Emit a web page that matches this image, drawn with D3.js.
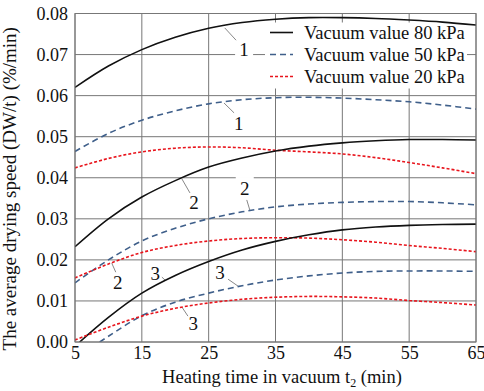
<!doctype HTML>
<html lang='en'>
<head>
	<meta charset='utf-8'>
	<title>Average drying speed vs heating time</title>
	<script src='https://d3js.org/d3.v7.min.js'></script>
	<style>
		html, body { margin: 0; padding: 0; background: #fff; }
		svg { display: block; font-family: 'Liberation Serif', 'Times New Roman', serif; }
	</style>
</head>
<body>
	<div id='container'></div>
	<script>
		// Data
		const time = [5, 10, 15, 20, 25, 30, 35, 40, 45, 50, 55, 60, 65];
		const time80c3 = [5.7, 10, 15, 20, 25, 30, 35, 40, 45, 50, 55, 60, 65];
		const time50c3 = [8.7, 10, 15, 20, 25, 30, 35, 40, 45, 50, 55, 60, 65];

		const v80c1 = [0.0620, 0.0672, 0.0712, 0.0742, 0.0764, 0.0778, 0.0786, 0.0790, 0.0790, 0.0788, 0.0784, 0.0779, 0.0772];
		const v50c1 = [0.0464, 0.0508, 0.0540, 0.0563, 0.0580, 0.0590, 0.0595, 0.0596, 0.0594, 0.0590, 0.0585, 0.0577, 0.0567];
		const v20c1 = [0.0424, 0.0447, 0.0463, 0.0472, 0.0475, 0.0473, 0.0467, 0.0463, 0.0458, 0.0449, 0.0437, 0.0424, 0.0410];
		const v80c2 = [0.0232, 0.0300, 0.0353, 0.0393, 0.0426, 0.0448, 0.0465, 0.0477, 0.0485, 0.0490, 0.0493, 0.0493, 0.0492];
		const v50c2 = [0.0144, 0.0200, 0.0246, 0.0277, 0.0300, 0.0317, 0.0329, 0.0336, 0.0340, 0.0342, 0.0342, 0.0339, 0.0334];
		const v20c2 = [0.0156, 0.0190, 0.0218, 0.0235, 0.0246, 0.0252, 0.0254, 0.0253, 0.0249, 0.0243, 0.0235, 0.0228, 0.0220];
		const v80c3 = [0.0000, 0.0060, 0.0119, 0.0162, 0.0196, 0.0224, 0.0245, 0.0261, 0.0273, 0.0280, 0.0284, 0.0286, 0.0287];
		const v50c3 = [0.0000, 0.0014, 0.0064, 0.0097, 0.0119, 0.0137, 0.0151, 0.0161, 0.0168, 0.0172, 0.0173, 0.0173, 0.0172];
		const v20c3 = [0.0005, 0.0036, 0.0063, 0.0082, 0.0095, 0.0104, 0.0109, 0.0111, 0.0110, 0.0107, 0.0101, 0.0096, 0.0090];

		const xTicks = [5, 15, 25, 35, 45, 55, 65];
		const yTicks = [0, 0.01, 0.02, 0.03, 0.04, 0.05, 0.06, 0.07, 0.08];
		const legendNames = ['Vacuum value 80 kPa', 'Vacuum value 50 kPa', 'Vacuum value 20 kPa'];

		// Curve number labels: text position and leader line, in data units
		const curveLabels = [
			{text: '1', t: 30.3, v: 0.0713, l: [27.4, 0.0765, 29.1, 0.0735]},
			{text: '1', t: 29.5, v: 0.0533, l: [27.3, 0.0582, 28.8, 0.0558]},
			{text: '2', t: 22.8, v: 0.0341, l: [21.0, 0.0397, 22.2, 0.0363]},
			{text: '2', t: 30.4, v: 0.0375, l: [30.7, 0.0346, 31.2, 0.0319]},
			{text: '2', t: 11.4, v: 0.0146, l: [10.5, 0.0192, 11.1, 0.0170]},
			{text: '3', t: 17.0, v: 0.0168, l: [18.0, 0.0158, 18.6, 0.0149]},
			{text: '3', t: 26.7, v: 0.0170, l: [27.9, 0.0153, 29.4, 0.0136]},
			{text: '3', t: 22.7, v: 0.0046, l: [21.0, 0.0085, 21.9, 0.0063]}
		];

		const margin = {top: 13.5, right: 8, bottom: 49, left: 75},
			width = 484 - margin.left - margin.right,
			height = 391 - margin.top - margin.bottom;

		const styles = {
			80: {color: '#111', dash: null},
			50: {color: '#3f5f8a', dash: '6,4'},
			20: {color: '#e8141c', dash: '3,2'}
		};

		const x = d3.scaleLinear().domain([5, 65]).range([0, width]);
		const y = d3.scaleLinear().domain([0, 0.08]).range([height, 0]);

		const svg = d3.select('#container').append('svg')
			.attr('width', 484)
			.attr('height', 391)
			.append('g')
			.attr('transform', 'translate(' + margin.left + ',' + margin.top + ')');

		// Grid
		svg.append('g').selectAll('line')
			.data(yTicks)
			.enter().append('line')
			.attr('x1', 0).attr('x2', width)
			.attr('y1', d => y(d)).attr('y2', d => y(d))
			.attr('stroke', '#777').attr('stroke-width', 1);
		svg.append('g').selectAll('line')
			.data(xTicks)
			.enter().append('line')
			.attr('x1', d => x(d)).attr('x2', d => x(d))
			.attr('y1', 0).attr('y2', height)
			.attr('stroke', '#777').attr('stroke-width', 1);

		svg.append('defs').append('clipPath').attr('id', 'clip')
			.append('rect').attr('width', width).attr('height', height);

		const line = d3.line()
			.x(d => x(d[0]))
			.y(d => y(d[1]))
			.curve(d3.curveCatmullRom);

		const series = [
			{k: 80, t: time, v: v80c1}, {k: 50, t: time, v: v50c1}, {k: 20, t: time, v: v20c1},
			{k: 80, t: time, v: v80c2}, {k: 50, t: time, v: v50c2}, {k: 20, t: time, v: v20c2},
			{k: 80, t: time80c3, v: v80c3}, {k: 50, t: time50c3, v: v50c3}, {k: 20, t: time, v: v20c3}
		];

		// Legend box (white, hides grid)
		svg.append('rect')
			.attr('x', 190).attr('y', 9)
			.attr('width', 202).attr('height', 66)
			.attr('fill', '#fff');

		// Label backgrounds
		const lab = svg.append('g');
		lab.selectAll('rect')
			.data(curveLabels)
			.enter().append('rect')
			.attr('x', d => x(d.t) - 9)
			.attr('y', d => y(d.v) - 11)
			.attr('width', 18).attr('height', 22)
			.attr('fill', '#fff');

		svg.append('g').attr('clip-path', 'url(#clip)')
			.selectAll('path')
			.data(series)
			.enter().append('path')
			.attr('d', d => line(d.t.map((t, i) => [t, d.v[i]])))
			.attr('fill', 'none')
			.attr('stroke', d => styles[d.k].color)
			.attr('stroke-width', 1.6)
			.attr('stroke-dasharray', d => styles[d.k].dash);

		// Leaders and numbers
		lab.selectAll('line')
			.data(curveLabels)
			.enter().append('line')
			.attr('x1', d => x(d.l[0])).attr('y1', d => y(d.l[1]))
			.attr('x2', d => x(d.l[2])).attr('y2', d => y(d.l[3]))
			.attr('stroke', '#888').attr('stroke-width', 1);
		lab.selectAll('text')
			.data(curveLabels)
			.enter().append('text')
			.attr('x', d => x(d.t))
			.attr('y', d => y(d.v))
			.attr('dy', '0.35em')
			.attr('text-anchor', 'middle')
			.style('font-size', '19px')
			.attr('fill', '#111')
			.text(d => d.text);

		// Border
		svg.append('rect')
			.attr('width', width).attr('height', height)
			.attr('fill', 'none').attr('stroke', '#777').attr('stroke-width', 1);

		// Axes
		const xAxis = svg.append('g')
			.attr('transform', 'translate(0,' + height + ')')
			.call(d3.axisBottom(x).tickValues(xTicks).tickSize(0).tickPadding(4));
		xAxis.select('.domain').remove();
		xAxis.selectAll('text').style('font-size', '18px').attr('fill', '#111')
			.style('font-family', "'Liberation Serif', serif");

		const yAxis = svg.append('g')
			.call(d3.axisLeft(y).tickValues(yTicks).tickFormat(d3.format('.2f')).tickSize(0).tickPadding(7));
		yAxis.select('.domain').remove();
		yAxis.selectAll('text').style('font-size', '18px').attr('fill', '#111')
			.style('font-family', "'Liberation Serif', serif");

		// Axis titles
		const xt = svg.append('text')
			.attr('x', 207)
			.attr('y', height + 41)
			.attr('text-anchor', 'middle')
			.style('font-size', '18.5px')
			.attr('fill', '#111');
		xt.append('tspan').text('Heating time in vacuum t');
		xt.append('tspan').attr('dy', 4).style('font-size', '12px').text('2');
		xt.append('tspan').attr('dy', -4).text(' (min)');

		svg.append('text')
			.attr('transform', 'translate(' + (-59) + ',' + (height / 2 + 11) + ') rotate(-90)')
			.attr('text-anchor', 'middle')
			.style('font-size', '19px')
			.attr('fill', '#111')
			.text('The average drying speed (DW/t) (%/min)');

		// Legend
		const legend = svg.append('g')
			.attr('transform', 'translate(195, 19)')
			.selectAll('g')
			.data([80, 50, 20])
			.enter().append('g')
			.attr('transform', (d, i) => 'translate(0,' + (i * 22) + ')');
		legend.append('line')
			.attr('x1', 0).attr('x2', 23)
			.attr('stroke', d => styles[d].color)
			.attr('stroke-width', 1.6)
			.attr('stroke-dasharray', d => styles[d].dash);
		legend.append('text')
			.attr('x', 34).attr('dy', '0.35em')
			.style('font-size', '18.5px')
			.attr('fill', '#111')
			.text((d, i) => legendNames[i]);
	</script>
</body>
</html>
